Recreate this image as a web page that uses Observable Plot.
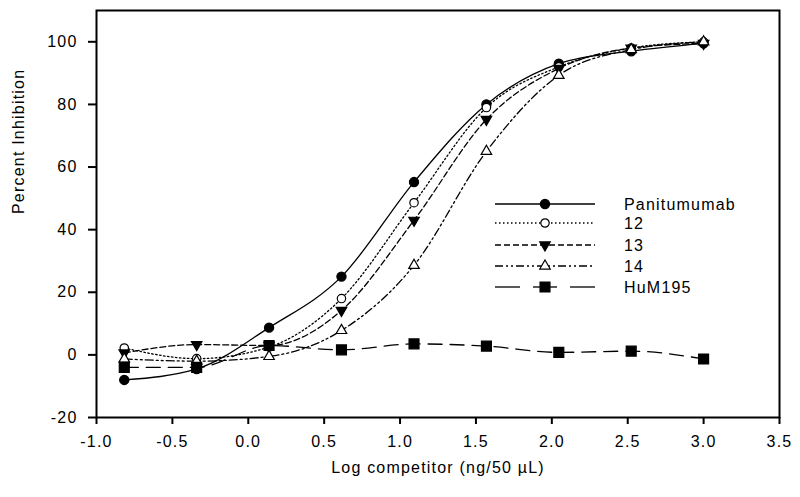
<!DOCTYPE html>
<html>
<head>
<meta charset="utf-8">
<script src="https://cdn.jsdelivr.net/npm/d3@7"></script>
<script src="https://cdn.jsdelivr.net/npm/@observablehq/plot@0.6"></script>
<style>
  body { margin: 0; background: #fff; }
</style>
</head>
<body>
<div id="chart"></div>
<script>
// ---- data ----
const xLog = [-0.817, -0.340, 0.137, 0.614, 1.092, 1.569, 2.046, 2.523, 3.000];
const seriesNames = ["Panitumumab", "12", "13", "14", "HuM195"];
const panitumumab = [-8.0, -4.5, 8.7, 25.0, 55.2, 80.0, 93.0, 97.0, 99.5];
const ab12 = [2.2, -1.2, 2.5, 18.0, 48.6, 79.0, 92.0, 98.0, 100.0];
const ab13 = [0.6, 3.3, 3.0, 14.2, 43.0, 75.2, 91.5, 98.0, 99.5];
const ab14 = [-1.3, -2.0, -0.5, 7.8, 28.6, 65.0, 89.3, 97.5, 100.0];
const hum195 = [-4.0, -4.0, 3.0, 1.6, 3.5, 2.8, 0.8, 1.2, -1.3];
const xTicks = [-1.0, -0.5, 0.0, 0.5, 1.0, 1.5, 2.0, 2.5, 3.0, 3.5];
const yTicks = [-20, 0, 20, 40, 60, 80, 100];
const xTitle = "Log competitor (ng/50 \u00b5L)";
const yTitle = "Percent Inhibition";

// ---- styles ----
const triangleDown = {
  draw(context, size) {
    const s = Math.sqrt(size / (Math.sqrt(3) / 4));
    const h = s * Math.sqrt(3) / 2;
    context.moveTo(0, h * 2 / 3);
    context.lineTo(s / 2, -h / 3);
    context.lineTo(-s / 2, -h / 3);
    context.closePath();
  }
};
const styles = {
  "Panitumumab": {symbol: "circle", fill: "black", r: 4.6, dash: null, legendDash: null},
  "12": {symbol: "circle", fill: "white", r: 4.2, dash: "1.5,2.5", legendDash: "1.5,2.5"},
  "13": {symbol: triangleDown, fill: "black", r: 3.9, dash: "6,3", legendDash: "6,3"},
  "14": {symbol: "triangle", fill: "white", r: 3.9, dash: "8,3,2,3,2,3", legendDash: "8,3,2,3,2,3"},
  "HuM195": {symbol: "square", fill: "black", r: 5.6, dash: "14,8", legendDash: "25,7"}
};
const valuesBySeries = [panitumumab, ab12, ab13, ab14, hum195];
const rows = seriesNames.flatMap((name, i) =>
  xLog.map((x, j) => ({series: name, x, y: valuesBySeries[i][j]})));

const marks = [];
for (const name of seriesNames) {
  const st = styles[name];
  const data = rows.filter(d => d.series === name);
  marks.push(Plot.line(data, {x: "x", y: "y", curve: "monotone-x", stroke: "black",
    strokeWidth: 1.3, strokeDasharray: st.dash}));
}
for (const name of seriesNames) {
  const st = styles[name];
  const data = rows.filter(d => d.series === name);
  marks.push(Plot.dot(data, {x: "x", y: "y", symbol: st.symbol, r: st.r,
    fill: st.fill, stroke: "black", strokeWidth: 1.2}));
}

const fontFamily = "'Liberation Sans', Arial, sans-serif";
const svg = Plot.plot({
  width: 800,
  height: 497,
  marginLeft: 96,
  marginRight: 21,
  marginTop: 10,
  marginBottom: 80,
  style: {fontFamily, fontSize: "16px", letterSpacing: "1.2px", background: "white", color: "black"},
  x: {domain: [-1.0, 3.5]},
  y: {domain: [-20, 110]},
  marks: [
    Plot.frame({stroke: "black", strokeWidth: 2}),
    Plot.axisX({ticks: xTicks, tickFormat: d => d.toFixed(1), tickSize: 7, tickPadding: 11,
      strokeWidth: 2, label: null}),
    Plot.axisY({ticks: yTicks, tickFormat: d => String(d), tickSize: 8, tickPadding: 11,
      strokeWidth: 2, label: null}),
    Plot.text([xTitle], {frameAnchor: "bottom", dy: 55, text: d => d, fontSize: 16}),
    Plot.text([yTitle], {frameAnchor: "left", dx: -78, rotate: -90, text: d => d, fontSize: 16}),
    ...marks
  ]
});

// ---- legend (inside plot area) ----
const legendRows = [204, 223, 245, 266, 287];
const lx0 = 495, lx1 = 595, lmx = 545, ltx = 624;
const g = d3.select(svg).append("g").attr("text-anchor", "start");
seriesNames.forEach((name, i) => {
  const st = styles[name];
  const y = legendRows[i];
  if (name === "HuM195") {
    g.append("line").attr("x1", lx0).attr("x2", lx0 + 25).attr("y1", y).attr("y2", y)
      .attr("stroke", "black").attr("stroke-width", 1.3);
    g.append("line").attr("x1", lmx - 12).attr("x2", lmx + 12).attr("y1", y).attr("y2", y)
      .attr("stroke", "black").attr("stroke-width", 1.3);
    g.append("line").attr("x1", lx1 - 25).attr("x2", lx1).attr("y1", y).attr("y2", y)
      .attr("stroke", "black").attr("stroke-width", 1.3);
  } else {
    g.append("line").attr("x1", lx0).attr("x2", lx1).attr("y1", y).attr("y2", y)
      .attr("stroke", "black").attr("stroke-width", 1.3)
      .attr("stroke-dasharray", st.legendDash);
  }
  const sym = typeof st.symbol === "string"
    ? {circle: d3.symbolCircle, square: d3.symbolSquare, triangle: d3.symbolTriangle}[st.symbol]
    : st.symbol;
  g.append("path")
    .attr("d", d3.symbol(sym, st.r * st.r * Math.PI)())
    .attr("transform", `translate(${lmx},${y})`)
    .attr("fill", st.fill).attr("stroke", "black").attr("stroke-width", 1.2);
  g.append("text").attr("x", ltx).attr("y", y).attr("dy", "0.35em")
    .attr("text-anchor", "start").attr("fill", "black").text(name);
});

document.getElementById("chart").appendChild(svg);
</script>
</body>
</html>
